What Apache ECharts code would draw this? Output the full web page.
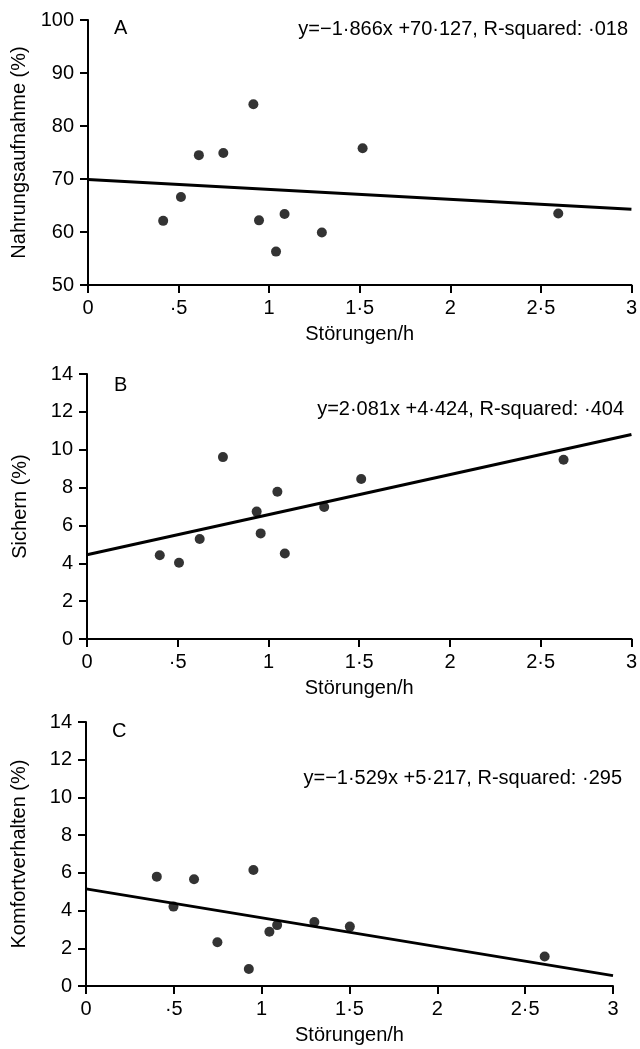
<!DOCTYPE html>
<html>
<head>
<meta charset="utf-8">
<script src="https://cdn.jsdelivr.net/npm/echarts@6/dist/echarts.min.js"></script>
<style>
html,body{margin:0;padding:0;background:#fff;}
#chart{width:640px;height:1049px;}
</style>
</head>
<body>
<div id="chart"></div>
<script>
// ---- data ----
const xTickLabels = ['0', '·5', '1', '1·5', '2', '2·5', '3'];
const xTitle = 'Störungen/h';

const panelLetters = ['A', 'B', 'C'];
const yTitles = ['Nahrungsaufnahme (%)', 'Sichern (%)', 'Komfortverhalten (%)'];
const equations = [
  'y=−1·866x +70·127, R-squared: ·018',
  'y=2·081x +4·424, R-squared: ·404',
  'y=−1·529x +5·217, R-squared: ·295'
];

const xA = [0.415, 0.513, 0.612, 0.747, 0.913, 0.944, 1.038, 1.085, 1.291, 1.516, 2.596];
const yA = [62.1, 66.6, 74.5, 74.9, 84.1, 62.2, 56.3, 63.4, 59.9, 75.8, 63.5];
const lineA = [[0, 69.9], [3, 64.3]];

const xB = [0.401, 0.507, 0.621, 0.749, 0.935, 0.957, 1.049, 1.090, 1.307, 1.511, 2.626];
const yB = [4.42, 4.03, 5.28, 9.61, 6.73, 5.58, 7.78, 4.52, 6.97, 8.45, 9.47];
const lineB = [[0, 4.45], [3, 10.8]];

const xC = [0.403, 0.498, 0.615, 0.748, 0.927, 0.953, 1.044, 1.088, 1.300, 1.502, 2.611];
const yC = [5.80, 4.21, 5.66, 2.32, 0.90, 6.15, 2.88, 3.23, 3.39, 3.15, 1.56];
const lineC = [[0, 5.15], [3, 0.55]];

const yRanges = [[50, 100, 10], [0, 14, 2], [0, 14, 2]];

// ---- layout ----
const FONT = 'Liberation Sans';
const FS = 20;
const grids = [
  {left: 88, top: 20, width: 545, height: 265},
  {left: 87, top: 374, width: 546, height: 265},
  {left: 86, top: 722, width: 527, height: 264}
];
const letterPos = [[114, 28], [114, 385], [112, 731]];
const eqPos = [[628, 29], [624, 409], [622, 778]];

const points = [[xA, yA], [xB, yB], [xC, yC]];
const lines = [lineA, lineB, lineC];

const chart = echarts.init(document.getElementById('chart'), null, {renderer: 'canvas'});

const option = {
  backgroundColor: '#fff',
  animation: false,
  grid: grids,
  xAxis: grids.map((g, i) => ({
    type: 'value', gridIndex: i, min: 0, max: 3, interval: 0.5,
    name: xTitle, nameLocation: 'middle', nameGap: 39,
    nameTextStyle: {fontFamily: FONT, fontSize: FS, color: '#000'},
    axisLine: {show: true, onZero: false, lineStyle: {color: '#000', width: 2}},
    axisTick: {show: true, length: 8, lineStyle: {color: '#000', width: 2}},
    axisLabel: {
      fontFamily: FONT, fontSize: FS, color: '#000', margin: 13,
      formatter: v => xTickLabels[Math.round(v / 0.5)]
    },
    splitLine: {show: false}
  })),
  yAxis: grids.map((g, i) => ({
    type: 'value', gridIndex: i,
    min: yRanges[i][0], max: yRanges[i][1], interval: yRanges[i][2],
    name: yTitles[i], nameLocation: 'middle', nameGap: 57, nameRotate: 90,
    nameTextStyle: {fontFamily: FONT, fontSize: FS, color: '#000'},
    axisLine: {show: true, onZero: false, lineStyle: {color: '#000', width: 2}},
    axisTick: {show: true, length: 8, lineStyle: {color: '#000', width: 2}},
    axisLabel: {fontFamily: FONT, fontSize: FS, color: '#000', margin: 14},
    splitLine: {show: false}
  })),
  series: [].concat(...points.map((p, i) => [
    {
      type: 'scatter', xAxisIndex: i, yAxisIndex: i,
      data: p[0].map((x, k) => [x, p[1][k]]),
      symbol: 'circle', symbolSize: 10,
      itemStyle: {color: '#000'}
    },
    {
      type: 'line', xAxisIndex: i, yAxisIndex: i,
      data: lines[i], symbol: 'none',
      lineStyle: {color: '#000', width: 3}
    }
  ])),
  graphic: [].concat(
    panelLetters.map((t, i) => ({
      type: 'text', x: letterPos[i][0], y: letterPos[i][1],
      style: {text: t, font: FS + 'px "' + FONT + '"', fill: '#000', textAlign: 'left', textVerticalAlign: 'middle'}
    })),
    equations.map((t, i) => ({
      type: 'text', x: eqPos[i][0], y: eqPos[i][1],
      style: {text: t, font: FS + 'px "' + FONT + '"', fill: '#000', textAlign: 'right', textVerticalAlign: 'middle'}
    }))
  )
};
chart.setOption(option);
</script>
</body>
</html>
